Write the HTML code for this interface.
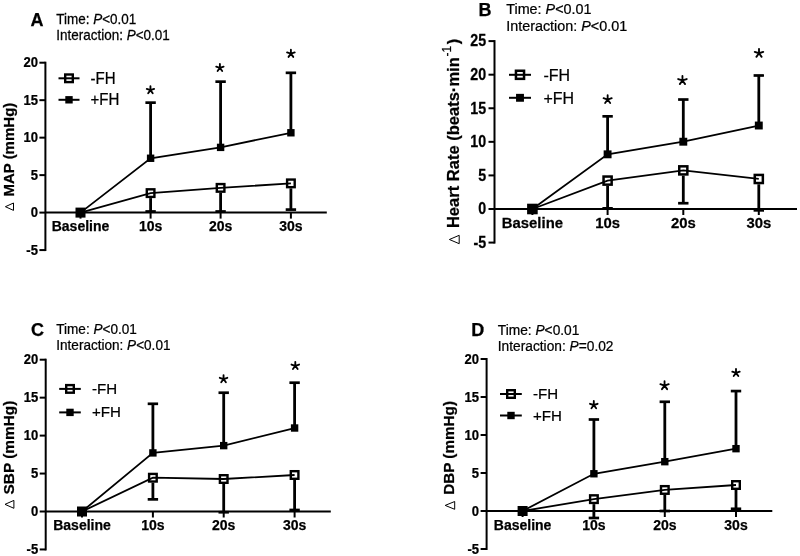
<!DOCTYPE html>
<html><head><meta charset="utf-8"><style>
html,body{margin:0;padding:0;background:#fff;}
svg{display:block;will-change:transform;}
svg text{font-family:"Liberation Sans", sans-serif;fill:#000;stroke:#000;stroke-width:0.25px;}
</style></head><body>
<svg width="800" height="556" viewBox="0 0 800 556">
<rect width="800" height="556" fill="#fff"/>
<line x1="45.4" y1="61.7" x2="45.4" y2="251.07" stroke="#000" stroke-width="2"/>
<line x1="39.4" y1="250.07" x2="45.4" y2="250.07" stroke="#000" stroke-width="2"/>
<text transform="translate(37.9,254.86) scale(0.9,1)" font-weight="bold" text-anchor="end" font-size="14.5">-5</text>
<line x1="39.4" y1="212.6" x2="45.4" y2="212.6" stroke="#000" stroke-width="2"/>
<text transform="translate(37.9,217.38) scale(0.9,1)" font-weight="bold" text-anchor="end" font-size="14.5">0</text>
<line x1="39.4" y1="175.12" x2="45.4" y2="175.12" stroke="#000" stroke-width="2"/>
<text transform="translate(37.9,179.91) scale(0.9,1)" font-weight="bold" text-anchor="end" font-size="14.5">5</text>
<line x1="39.4" y1="137.65" x2="45.4" y2="137.65" stroke="#000" stroke-width="2"/>
<text transform="translate(37.9,142.43) scale(0.9,1)" font-weight="bold" text-anchor="end" font-size="14.5">10</text>
<line x1="39.4" y1="100.17" x2="45.4" y2="100.17" stroke="#000" stroke-width="2"/>
<text transform="translate(37.9,104.96) scale(0.9,1)" font-weight="bold" text-anchor="end" font-size="14.5">15</text>
<line x1="39.4" y1="62.7" x2="45.4" y2="62.7" stroke="#000" stroke-width="2"/>
<text transform="translate(37.9,67.48) scale(0.9,1)" font-weight="bold" text-anchor="end" font-size="14.5">20</text>
<line x1="45.4" y1="212.6" x2="326.8" y2="212.6" stroke="#000" stroke-width="2"/>
<line x1="80.5" y1="212.6" x2="80.5" y2="218.6" stroke="#000" stroke-width="2"/>
<text transform="translate(80.5,231) scale(1.0,1)" font-weight="bold" text-anchor="middle" font-size="14">Baseline</text>
<line x1="150.6" y1="212.6" x2="150.6" y2="218.6" stroke="#000" stroke-width="2"/>
<text transform="translate(150.6,231) scale(1.0,1)" font-weight="bold" text-anchor="middle" font-size="14">10s</text>
<line x1="220.6" y1="212.6" x2="220.6" y2="218.6" stroke="#000" stroke-width="2"/>
<text transform="translate(220.6,231) scale(1.0,1)" font-weight="bold" text-anchor="middle" font-size="14">20s</text>
<line x1="290.9" y1="212.6" x2="290.9" y2="218.6" stroke="#000" stroke-width="2"/>
<text transform="translate(290.9,231) scale(1.0,1)" font-weight="bold" text-anchor="middle" font-size="14">30s</text>
<line x1="150.6" y1="158.26" x2="150.6" y2="102.65" stroke="#000" stroke-width="2.8"/>
<line x1="145.4" y1="102.65" x2="155.8" y2="102.65" stroke="#000" stroke-width="2.7"/>
<line x1="150.6" y1="198.11" x2="150.6" y2="211.48" stroke="#000" stroke-width="2.8"/>
<line x1="145.4" y1="211.48" x2="155.8" y2="211.48" stroke="#000" stroke-width="2.7"/>
<line x1="220.6" y1="147.39" x2="220.6" y2="81.66" stroke="#000" stroke-width="2.8"/>
<line x1="215.4" y1="81.66" x2="225.8" y2="81.66" stroke="#000" stroke-width="2.7"/>
<line x1="220.6" y1="192.87" x2="220.6" y2="211.48" stroke="#000" stroke-width="2.8"/>
<line x1="215.4" y1="211.48" x2="225.8" y2="211.48" stroke="#000" stroke-width="2.7"/>
<line x1="290.9" y1="132.78" x2="290.9" y2="72.82" stroke="#000" stroke-width="2.8"/>
<line x1="285.7" y1="72.82" x2="296.1" y2="72.82" stroke="#000" stroke-width="2.7"/>
<line x1="290.9" y1="188.37" x2="290.9" y2="209.6" stroke="#000" stroke-width="2.8"/>
<line x1="285.7" y1="209.6" x2="296.1" y2="209.6" stroke="#000" stroke-width="2.7"/>
<polyline points="80.5,212.6 150.6,158.26 220.6,147.39 290.9,132.78" fill="none" stroke="#000" stroke-width="1.8"/>
<polyline points="80.5,212.6 150.6,193.11 220.6,187.87 290.9,183.37" fill="none" stroke="#000" stroke-width="1.8"/>
<rect x="76.7" y="208.8" width="7.6" height="7.6" fill="none" stroke="#000" stroke-width="2.4"/>
<rect x="76.8" y="208.9" width="7.4" height="7.4" fill="#000"/>
<rect x="146.8" y="189.31" width="7.6" height="7.6" fill="none" stroke="#000" stroke-width="2.4"/>
<rect x="146.9" y="154.56" width="7.4" height="7.4" fill="#000"/>
<rect x="216.8" y="184.07" width="7.6" height="7.6" fill="none" stroke="#000" stroke-width="2.4"/>
<rect x="216.9" y="143.69" width="7.4" height="7.4" fill="#000"/>
<rect x="287.1" y="179.57" width="7.6" height="7.6" fill="none" stroke="#000" stroke-width="2.4"/>
<rect x="287.2" y="129.08" width="7.4" height="7.4" fill="#000"/>
<path d="M150.45,90.15L150.45,86.29M150.45,90.15L154.13,88.96M150.45,90.15L152.72,93.28M150.45,90.15L148.18,93.28M150.45,90.15L146.77,88.96" stroke="#000" stroke-width="1.85" stroke-linecap="round" fill="none"/>
<path d="M219.9,67.8L219.9,63.91M219.9,67.8L223.6,66.6M219.9,67.8L222.19,70.95M219.9,67.8L217.61,70.95M219.9,67.8L216.2,66.6" stroke="#000" stroke-width="1.85" stroke-linecap="round" fill="none"/>
<path d="M290.9,53.65L290.9,49.63M290.9,53.65L294.73,52.41M290.9,53.65L293.26,56.9M290.9,53.65L288.54,56.9M290.9,53.65L287.07,52.41" stroke="#000" stroke-width="1.85" stroke-linecap="round" fill="none"/>
<text transform="translate(30.6,26.4) scale(1.0,1)" font-weight="bold" font-size="18">A</text>
<text transform="translate(56.3,23.8) scale(0.95,1)" font-size="14.2">Time: <tspan font-style="italic">P</tspan>&lt;0.01</text>
<text transform="translate(56.3,39.6) scale(0.95,1)" font-size="14.2">Interaction: <tspan font-style="italic">P</tspan>&lt;0.01</text>
<line x1="58.5" y1="78.3" x2="79.5" y2="78.3" stroke="#000" stroke-width="2"/>
<rect x="65.2" y="74.5" width="7.6" height="7.6" fill="none" stroke="#000" stroke-width="2.4"/>
<line x1="58.5" y1="99.8" x2="79.5" y2="99.8" stroke="#000" stroke-width="2"/>
<rect x="65.3" y="96.1" width="7.4" height="7.4" fill="#000"/>
<text transform="translate(90.5,83.5) scale(0.94,1)" font-size="16">-FH</text>
<text transform="translate(90.5,104.5) scale(0.94,1)" font-size="16">+FH</text>
<path d="M13.5,210.4 L13.5,203 L5.4,206.7 Z" fill="none" stroke="#000" stroke-width="1.0" stroke-linejoin="miter"/>
<text transform="translate(14,196.6) rotate(-90) scale(1,1)" font-weight="bold" font-size="15">MAP (mmHg)</text>
<line x1="494.5" y1="40.1" x2="494.5" y2="243.58" stroke="#000" stroke-width="2"/>
<line x1="488.5" y1="242.58" x2="494.5" y2="242.58" stroke="#000" stroke-width="2"/>
<text transform="translate(486.1,247.86) scale(0.89,1)" font-weight="bold" text-anchor="end" font-size="16">-5</text>
<line x1="488.5" y1="209" x2="494.5" y2="209" stroke="#000" stroke-width="2"/>
<text transform="translate(486.1,214.28) scale(0.89,1)" font-weight="bold" text-anchor="end" font-size="16">0</text>
<line x1="488.5" y1="175.42" x2="494.5" y2="175.42" stroke="#000" stroke-width="2"/>
<text transform="translate(486.1,180.7) scale(0.89,1)" font-weight="bold" text-anchor="end" font-size="16">5</text>
<line x1="488.5" y1="141.84" x2="494.5" y2="141.84" stroke="#000" stroke-width="2"/>
<text transform="translate(486.1,147.12) scale(0.89,1)" font-weight="bold" text-anchor="end" font-size="16">10</text>
<line x1="488.5" y1="108.26" x2="494.5" y2="108.26" stroke="#000" stroke-width="2"/>
<text transform="translate(486.1,113.54) scale(0.89,1)" font-weight="bold" text-anchor="end" font-size="16">15</text>
<line x1="488.5" y1="74.68" x2="494.5" y2="74.68" stroke="#000" stroke-width="2"/>
<text transform="translate(486.1,79.96) scale(0.89,1)" font-weight="bold" text-anchor="end" font-size="16">20</text>
<line x1="488.5" y1="41.1" x2="494.5" y2="41.1" stroke="#000" stroke-width="2"/>
<text transform="translate(486.1,46.38) scale(0.89,1)" font-weight="bold" text-anchor="end" font-size="16">25</text>
<line x1="494.5" y1="209" x2="797" y2="209" stroke="#000" stroke-width="2"/>
<line x1="532.4" y1="209" x2="532.4" y2="215" stroke="#000" stroke-width="2"/>
<text transform="translate(532.4,227.9) scale(0.96,1)" font-weight="bold" text-anchor="middle" font-size="15.5">Baseline</text>
<line x1="607.6" y1="209" x2="607.6" y2="215" stroke="#000" stroke-width="2"/>
<text transform="translate(607.6,227.9) scale(0.96,1)" font-weight="bold" text-anchor="middle" font-size="15.5">10s</text>
<line x1="683.3" y1="209" x2="683.3" y2="215" stroke="#000" stroke-width="2"/>
<text transform="translate(683.3,227.9) scale(0.96,1)" font-weight="bold" text-anchor="middle" font-size="15.5">20s</text>
<line x1="758.8" y1="209" x2="758.8" y2="215" stroke="#000" stroke-width="2"/>
<text transform="translate(758.8,227.9) scale(0.96,1)" font-weight="bold" text-anchor="middle" font-size="15.5">30s</text>
<line x1="607.6" y1="154.33" x2="607.6" y2="116.32" stroke="#000" stroke-width="2.8"/>
<line x1="602.4" y1="116.32" x2="612.8" y2="116.32" stroke="#000" stroke-width="2.7"/>
<line x1="607.6" y1="185.89" x2="607.6" y2="208.33" stroke="#000" stroke-width="2.8"/>
<line x1="602.4" y1="208.33" x2="612.8" y2="208.33" stroke="#000" stroke-width="2.7"/>
<line x1="683.3" y1="141.71" x2="683.3" y2="99.53" stroke="#000" stroke-width="2.8"/>
<line x1="678.1" y1="99.53" x2="688.5" y2="99.53" stroke="#000" stroke-width="2.7"/>
<line x1="683.3" y1="175.68" x2="683.3" y2="203.22" stroke="#000" stroke-width="2.8"/>
<line x1="678.1" y1="203.22" x2="688.5" y2="203.22" stroke="#000" stroke-width="2.7"/>
<line x1="758.8" y1="125.52" x2="758.8" y2="75.49" stroke="#000" stroke-width="2.8"/>
<line x1="753.6" y1="75.49" x2="764" y2="75.49" stroke="#000" stroke-width="2.7"/>
<line x1="758.8" y1="184.28" x2="758.8" y2="210.34" stroke="#000" stroke-width="2.8"/>
<line x1="753.6" y1="210.34" x2="764" y2="210.34" stroke="#000" stroke-width="2.7"/>
<polyline points="532.4,209 607.6,154.33 683.3,141.71 758.8,125.52" fill="none" stroke="#000" stroke-width="1.8"/>
<polyline points="532.4,209 607.6,180.59 683.3,170.38 758.8,178.98" fill="none" stroke="#000" stroke-width="1.8"/>
<rect x="528.35" y="204.95" width="8.1" height="8.1" fill="none" stroke="#000" stroke-width="2.5"/>
<rect x="528.45" y="205.05" width="7.9" height="7.9" fill="#000"/>
<rect x="603.55" y="176.54" width="8.1" height="8.1" fill="none" stroke="#000" stroke-width="2.5"/>
<rect x="603.65" y="150.38" width="7.9" height="7.9" fill="#000"/>
<rect x="679.25" y="166.33" width="8.1" height="8.1" fill="none" stroke="#000" stroke-width="2.5"/>
<rect x="679.35" y="137.76" width="7.9" height="7.9" fill="#000"/>
<rect x="754.75" y="174.93" width="8.1" height="8.1" fill="none" stroke="#000" stroke-width="2.5"/>
<rect x="754.85" y="121.57" width="7.9" height="7.9" fill="#000"/>
<path d="M607.65,99.55L607.65,95.27M607.65,99.55L611.73,98.23M607.65,99.55L610.17,103.02M607.65,99.55L605.13,103.02M607.65,99.55L603.57,98.23" stroke="#000" stroke-width="1.85" stroke-linecap="round" fill="none"/>
<path d="M682.45,80.45L682.45,75.95M682.45,80.45L686.73,79.06M682.45,80.45L685.09,84.09M682.45,80.45L679.81,84.09M682.45,80.45L678.17,79.06" stroke="#000" stroke-width="1.85" stroke-linecap="round" fill="none"/>
<path d="M759,53.25L759,48.81M759,53.25L763.23,51.88M759,53.25L761.61,56.84M759,53.25L756.39,56.84M759,53.25L754.77,51.88" stroke="#000" stroke-width="1.85" stroke-linecap="round" fill="none"/>
<text transform="translate(478.5,15.5) scale(1.0,1)" font-weight="bold" font-size="18">B</text>
<text transform="translate(506.2,13.6) scale(0.94,1)" font-size="15.3">Time: <tspan font-style="italic">P</tspan>&lt;0.01</text>
<text transform="translate(506.2,30.6) scale(0.94,1)" font-size="15.3">Interaction: <tspan font-style="italic">P</tspan>&lt;0.01</text>
<line x1="509" y1="74.8" x2="531" y2="74.8" stroke="#000" stroke-width="2"/>
<rect x="515.95" y="70.75" width="8.1" height="8.1" fill="none" stroke="#000" stroke-width="2.5"/>
<line x1="509" y1="97.8" x2="531" y2="97.8" stroke="#000" stroke-width="2"/>
<rect x="516.05" y="93.85" width="7.9" height="7.9" fill="#000"/>
<text transform="translate(543.5,80.6) scale(0.94,1)" font-size="17">-FH</text>
<text transform="translate(543.5,103.8) scale(0.94,1)" font-size="17">+FH</text>
<path d="M459.2,243.7 L459.2,235.3 L449.4,239.5 Z" fill="none" stroke="#000" stroke-width="1.0" stroke-linejoin="miter"/>
<text transform="translate(458.7,228.1) rotate(-90) scale(1,1)" font-weight="bold" font-size="16.55">Heart Rate (beats·min<tspan font-size="11.9" font-weight="normal" dx="0.8" dy="-7.6">-1</tspan><tspan dx="1.6" dy="7.6">)</tspan></text>
<line x1="45.7" y1="358.7" x2="45.7" y2="550.45" stroke="#000" stroke-width="2"/>
<line x1="39.7" y1="549.45" x2="45.7" y2="549.45" stroke="#000" stroke-width="2"/>
<text transform="translate(38.2,554.24) scale(0.9,1)" font-weight="bold" text-anchor="end" font-size="14.5">-5</text>
<line x1="39.7" y1="511.5" x2="45.7" y2="511.5" stroke="#000" stroke-width="2"/>
<text transform="translate(38.2,516.28) scale(0.9,1)" font-weight="bold" text-anchor="end" font-size="14.5">0</text>
<line x1="39.7" y1="473.55" x2="45.7" y2="473.55" stroke="#000" stroke-width="2"/>
<text transform="translate(38.2,478.34) scale(0.9,1)" font-weight="bold" text-anchor="end" font-size="14.5">5</text>
<line x1="39.7" y1="435.6" x2="45.7" y2="435.6" stroke="#000" stroke-width="2"/>
<text transform="translate(38.2,440.39) scale(0.9,1)" font-weight="bold" text-anchor="end" font-size="14.5">10</text>
<line x1="39.7" y1="397.65" x2="45.7" y2="397.65" stroke="#000" stroke-width="2"/>
<text transform="translate(38.2,402.44) scale(0.9,1)" font-weight="bold" text-anchor="end" font-size="14.5">15</text>
<line x1="39.7" y1="359.7" x2="45.7" y2="359.7" stroke="#000" stroke-width="2"/>
<text transform="translate(38.2,364.49) scale(0.9,1)" font-weight="bold" text-anchor="end" font-size="14.5">20</text>
<line x1="45.7" y1="511.5" x2="330.8" y2="511.5" stroke="#000" stroke-width="2"/>
<line x1="82" y1="511.5" x2="82" y2="517.5" stroke="#000" stroke-width="2"/>
<text transform="translate(82,529.5) scale(1.0,1)" font-weight="bold" text-anchor="middle" font-size="14">Baseline</text>
<line x1="152.9" y1="511.5" x2="152.9" y2="517.5" stroke="#000" stroke-width="2"/>
<text transform="translate(152.9,529.5) scale(1.0,1)" font-weight="bold" text-anchor="middle" font-size="14">10s</text>
<line x1="223.7" y1="511.5" x2="223.7" y2="517.5" stroke="#000" stroke-width="2"/>
<text transform="translate(223.7,529.5) scale(1.0,1)" font-weight="bold" text-anchor="middle" font-size="14">20s</text>
<line x1="294.6" y1="511.5" x2="294.6" y2="517.5" stroke="#000" stroke-width="2"/>
<text transform="translate(294.6,529.5) scale(1.0,1)" font-weight="bold" text-anchor="middle" font-size="14">30s</text>
<line x1="152.9" y1="452.91" x2="152.9" y2="403.8" stroke="#000" stroke-width="2.8"/>
<line x1="147.7" y1="403.8" x2="158.1" y2="403.8" stroke="#000" stroke-width="2.7"/>
<line x1="152.9" y1="482.72" x2="152.9" y2="499.36" stroke="#000" stroke-width="2.8"/>
<line x1="147.7" y1="499.36" x2="158.1" y2="499.36" stroke="#000" stroke-width="2.7"/>
<line x1="223.7" y1="445.62" x2="223.7" y2="392.72" stroke="#000" stroke-width="2.8"/>
<line x1="218.5" y1="392.72" x2="228.9" y2="392.72" stroke="#000" stroke-width="2.7"/>
<line x1="223.7" y1="484.01" x2="223.7" y2="512.26" stroke="#000" stroke-width="2.8"/>
<line x1="218.5" y1="512.26" x2="228.9" y2="512.26" stroke="#000" stroke-width="2.7"/>
<line x1="294.6" y1="428.01" x2="294.6" y2="382.7" stroke="#000" stroke-width="2.8"/>
<line x1="289.4" y1="382.7" x2="299.8" y2="382.7" stroke="#000" stroke-width="2.7"/>
<line x1="294.6" y1="479.99" x2="294.6" y2="509.98" stroke="#000" stroke-width="2.8"/>
<line x1="289.4" y1="509.98" x2="299.8" y2="509.98" stroke="#000" stroke-width="2.7"/>
<polyline points="82,511.5 152.9,452.91 223.7,445.62 294.6,428.01" fill="none" stroke="#000" stroke-width="1.8"/>
<polyline points="82,511.5 152.9,477.72 223.7,479.01 294.6,474.99" fill="none" stroke="#000" stroke-width="1.8"/>
<rect x="78.2" y="507.7" width="7.6" height="7.6" fill="none" stroke="#000" stroke-width="2.4"/>
<rect x="78.3" y="507.8" width="7.4" height="7.4" fill="#000"/>
<rect x="149.1" y="473.92" width="7.6" height="7.6" fill="none" stroke="#000" stroke-width="2.4"/>
<rect x="149.2" y="449.21" width="7.4" height="7.4" fill="#000"/>
<rect x="219.9" y="475.21" width="7.6" height="7.6" fill="none" stroke="#000" stroke-width="2.4"/>
<rect x="220" y="441.92" width="7.4" height="7.4" fill="#000"/>
<rect x="290.8" y="471.19" width="7.6" height="7.6" fill="none" stroke="#000" stroke-width="2.4"/>
<rect x="290.9" y="424.31" width="7.4" height="7.4" fill="#000"/>
<path d="M223.55,379.05L223.55,375.08M223.55,379.05L227.33,377.82M223.55,379.05L225.88,382.26M223.55,379.05L221.22,382.26M223.55,379.05L219.77,377.82" stroke="#000" stroke-width="1.85" stroke-linecap="round" fill="none"/>
<path d="M295.3,365.8L295.3,361.8M295.3,365.8L299.1,364.57M295.3,365.8L297.65,369.03M295.3,365.8L292.95,369.03M295.3,365.8L291.5,364.57" stroke="#000" stroke-width="1.85" stroke-linecap="round" fill="none"/>
<text transform="translate(31,336.4) scale(1.0,1)" font-weight="bold" font-size="18">C</text>
<text transform="translate(56.3,333.6) scale(0.955,1)" font-size="14.2">Time: <tspan font-style="italic">P</tspan>&lt;0.01</text>
<text transform="translate(56.3,349.8) scale(0.955,1)" font-size="14.2">Interaction: <tspan font-style="italic">P</tspan>&lt;0.01</text>
<line x1="59.2" y1="388.9" x2="80.8" y2="388.9" stroke="#000" stroke-width="2"/>
<rect x="66.2" y="385.1" width="7.6" height="7.6" fill="none" stroke="#000" stroke-width="2.4"/>
<line x1="59.2" y1="412.4" x2="80.8" y2="412.4" stroke="#000" stroke-width="2"/>
<rect x="66.3" y="408.7" width="7.4" height="7.4" fill="#000"/>
<text transform="translate(91.9,394) scale(0.98,1)" font-size="15.4">-FH</text>
<text transform="translate(91.9,417.2) scale(0.98,1)" font-size="15.4">+FH</text>
<path d="M13.9,508.3 L13.9,500.4 L5,504.35 Z" fill="none" stroke="#000" stroke-width="1.0" stroke-linejoin="miter"/>
<text transform="translate(14,494.4) rotate(-90) scale(1,1)" font-weight="bold" font-size="15.4">SBP (mmHg)</text>
<line x1="486.6" y1="358" x2="486.6" y2="550" stroke="#000" stroke-width="2"/>
<line x1="480.6" y1="549" x2="486.6" y2="549" stroke="#000" stroke-width="2"/>
<text transform="translate(479.1,553.78) scale(0.9,1)" font-weight="bold" text-anchor="end" font-size="14.5">-5</text>
<line x1="480.6" y1="511" x2="486.6" y2="511" stroke="#000" stroke-width="2"/>
<text transform="translate(479.1,515.78) scale(0.9,1)" font-weight="bold" text-anchor="end" font-size="14.5">0</text>
<line x1="480.6" y1="473" x2="486.6" y2="473" stroke="#000" stroke-width="2"/>
<text transform="translate(479.1,477.79) scale(0.9,1)" font-weight="bold" text-anchor="end" font-size="14.5">5</text>
<line x1="480.6" y1="435" x2="486.6" y2="435" stroke="#000" stroke-width="2"/>
<text transform="translate(479.1,439.79) scale(0.9,1)" font-weight="bold" text-anchor="end" font-size="14.5">10</text>
<line x1="480.6" y1="397" x2="486.6" y2="397" stroke="#000" stroke-width="2"/>
<text transform="translate(479.1,401.79) scale(0.9,1)" font-weight="bold" text-anchor="end" font-size="14.5">15</text>
<line x1="480.6" y1="359" x2="486.6" y2="359" stroke="#000" stroke-width="2"/>
<text transform="translate(479.1,363.79) scale(0.9,1)" font-weight="bold" text-anchor="end" font-size="14.5">20</text>
<line x1="486.6" y1="511" x2="772.3" y2="511" stroke="#000" stroke-width="2"/>
<line x1="522.6" y1="511" x2="522.6" y2="517" stroke="#000" stroke-width="2"/>
<text transform="translate(522.6,530.4) scale(1.0,1)" font-weight="bold" text-anchor="middle" font-size="14">Baseline</text>
<line x1="593.9" y1="511" x2="593.9" y2="517" stroke="#000" stroke-width="2"/>
<text transform="translate(593.9,530.4) scale(1.0,1)" font-weight="bold" text-anchor="middle" font-size="14">10s</text>
<line x1="664.8" y1="511" x2="664.8" y2="517" stroke="#000" stroke-width="2"/>
<text transform="translate(664.8,530.4) scale(1.0,1)" font-weight="bold" text-anchor="middle" font-size="14">20s</text>
<line x1="736" y1="511" x2="736" y2="517" stroke="#000" stroke-width="2"/>
<text transform="translate(736,530.4) scale(1.0,1)" font-weight="bold" text-anchor="middle" font-size="14">30s</text>
<line x1="593.9" y1="473.76" x2="593.9" y2="419.5" stroke="#000" stroke-width="2.8"/>
<line x1="588.7" y1="419.5" x2="599.1" y2="419.5" stroke="#000" stroke-width="2.7"/>
<line x1="593.9" y1="504.14" x2="593.9" y2="517.99" stroke="#000" stroke-width="2.8"/>
<line x1="588.7" y1="517.99" x2="599.1" y2="517.99" stroke="#000" stroke-width="2.7"/>
<line x1="664.8" y1="461.68" x2="664.8" y2="401.79" stroke="#000" stroke-width="2.8"/>
<line x1="659.6" y1="401.79" x2="670" y2="401.79" stroke="#000" stroke-width="2.7"/>
<line x1="664.8" y1="494.95" x2="664.8" y2="511" stroke="#000" stroke-width="2.8"/>
<line x1="659.6" y1="511" x2="670" y2="511" stroke="#000" stroke-width="2.7"/>
<line x1="736" y1="448.68" x2="736" y2="391.07" stroke="#000" stroke-width="2.8"/>
<line x1="730.8" y1="391.07" x2="741.2" y2="391.07" stroke="#000" stroke-width="2.7"/>
<line x1="736" y1="490.01" x2="736" y2="508.8" stroke="#000" stroke-width="2.8"/>
<line x1="730.8" y1="508.8" x2="741.2" y2="508.8" stroke="#000" stroke-width="2.7"/>
<polyline points="522.6,511 593.9,473.76 664.8,461.68 736,448.68" fill="none" stroke="#000" stroke-width="1.8"/>
<polyline points="522.6,511 593.9,499.14 664.8,489.95 736,485.01" fill="none" stroke="#000" stroke-width="1.8"/>
<rect x="518.8" y="507.2" width="7.6" height="7.6" fill="none" stroke="#000" stroke-width="2.4"/>
<rect x="518.9" y="507.3" width="7.4" height="7.4" fill="#000"/>
<rect x="590.1" y="495.34" width="7.6" height="7.6" fill="none" stroke="#000" stroke-width="2.4"/>
<rect x="590.2" y="470.06" width="7.4" height="7.4" fill="#000"/>
<rect x="661" y="486.15" width="7.6" height="7.6" fill="none" stroke="#000" stroke-width="2.4"/>
<rect x="661.1" y="457.98" width="7.4" height="7.4" fill="#000"/>
<rect x="732.2" y="481.21" width="7.6" height="7.6" fill="none" stroke="#000" stroke-width="2.4"/>
<rect x="732.3" y="444.98" width="7.4" height="7.4" fill="#000"/>
<path d="M593.8,405L593.8,401M593.8,405L597.6,403.77M593.8,405L596.15,408.23M593.8,405L591.45,408.23M593.8,405L590,403.77" stroke="#000" stroke-width="1.85" stroke-linecap="round" fill="none"/>
<path d="M664.55,385.6L664.55,381.21M664.55,385.6L668.73,384.24M664.55,385.6L667.13,389.15M664.55,385.6L661.97,389.15M664.55,385.6L660.37,384.24" stroke="#000" stroke-width="1.85" stroke-linecap="round" fill="none"/>
<path d="M736,372.9L736,368.98M736,372.9L739.73,371.69M736,372.9L738.3,376.07M736,372.9L733.7,376.07M736,372.9L732.27,371.69" stroke="#000" stroke-width="1.85" stroke-linecap="round" fill="none"/>
<text transform="translate(471.2,335.8) scale(1.0,1)" font-weight="bold" font-size="18">D</text>
<text transform="translate(497.8,335) scale(0.955,1)" font-size="14.4">Time: <tspan font-style="italic">P</tspan>&lt;0.01</text>
<text transform="translate(497.8,351) scale(0.955,1)" font-size="14.4">Interaction: <tspan font-style="italic">P</tspan>=0.02</text>
<line x1="500" y1="394" x2="521.8" y2="394" stroke="#000" stroke-width="2"/>
<rect x="507.2" y="390.2" width="7.6" height="7.6" fill="none" stroke="#000" stroke-width="2.4"/>
<line x1="500" y1="415.5" x2="521.8" y2="415.5" stroke="#000" stroke-width="2"/>
<rect x="507.3" y="411.8" width="7.4" height="7.4" fill="#000"/>
<text transform="translate(533,399) scale(0.98,1)" font-size="15.4">-FH</text>
<text transform="translate(533,420.8) scale(0.98,1)" font-size="15.4">+FH</text>
<path d="M454.7,509.3 L454.7,501.5 L445.2,505.4 Z" fill="none" stroke="#000" stroke-width="1.0" stroke-linejoin="miter"/>
<text transform="translate(454,494.8) rotate(-90) scale(1,1)" font-weight="bold" font-size="15.25">DBP (mmHg)</text>
</svg>
</body></html>
